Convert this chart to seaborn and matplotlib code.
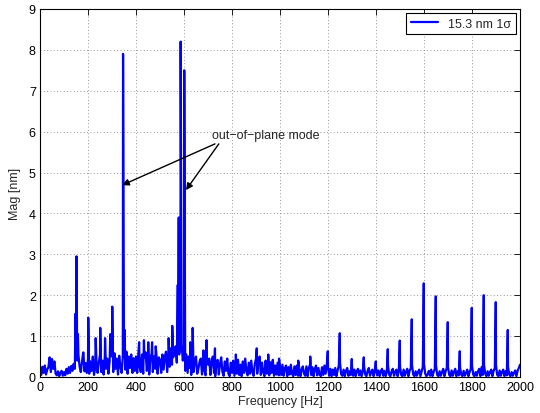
import numpy as np
import pandas as pd
import matplotlib
matplotlib.use("Agg")
import matplotlib.pyplot as plt
import seaborn as sns

# Broadband floor of the magnitude spectrum, one value every 5 Hz (0..2000 Hz)
floor_freq = list(range(0, 2001, 5))
floor_mag = [
    0.20, 0.05, 0.25, 0.10, 0.28, 0.06, 0.18, 0.24, 0.48, 0.12, 0.44, 0.20, 0.38, 0.08, 0.04, 0.14, 0.02, 0.10, 0.15, 0.03,
    0.12, 0.04, 0.20, 0.08, 0.24, 0.10, 0.27, 0.15, 0.32, 0.20, 0.50, 0.40, 0.55, 0.25, 0.12, 0.38, 0.60, 0.14, 0.34, 0.10,
    0.45, 0.08, 0.38, 0.15, 0.50, 0.05, 0.22, 0.42, 0.10, 0.35, 0.55, 0.12, 0.40, 0.06, 0.52, 0.20, 0.45, 0.08, 0.38, 0.60,
    0.50, 0.12, 0.58, 0.20, 0.45, 0.06, 0.52, 0.25, 0.10, 0.48, 0.55, 0.18, 0.62, 0.08, 0.50, 0.22, 0.55, 0.10, 0.46, 0.15,
    0.50, 0.10, 0.60, 0.25, 0.12, 0.55, 0.08, 0.48, 0.60, 0.15, 0.52, 0.06, 0.45, 0.58, 0.12, 0.50, 0.20, 0.55, 0.08, 0.48,
    0.42, 0.10, 0.55, 0.18, 0.50, 0.62, 0.12, 0.58, 0.25, 0.70, 0.30, 0.48, 0.65, 0.75, 0.35, 0.90, 0.55, 0.85, 0.80, 0.40,
    0.65, 0.15, 0.55, 0.10, 0.50, 0.22, 0.05, 0.45, 0.12, 0.40, 0.50, 0.08, 0.20, 0.38, 0.45, 0.06, 0.52, 0.15, 0.04, 0.40,
    0.30, 0.45, 0.05, 0.38, 0.50, 0.10, 0.02, 0.35, 0.42, 0.06, 0.32, 0.48, 0.12, 0.03, 0.38, 0.15, 0.45, 0.08, 0.02, 0.35,
    0.10, 0.40, 0.03, 0.35, 0.08, 0.42, 0.05, 0.30, 0.02, 0.38, 0.10, 0.45, 0.15, 0.04, 0.35, 0.08, 0.40, 0.12, 0.03, 0.32,
    0.45, 0.08, 0.38, 0.50, 0.05, 0.35, 0.12, 0.02, 0.40, 0.08, 0.32, 0.04, 0.36, 0.10, 0.42, 0.03, 0.28, 0.06, 0.35, 0.04,
    0.25, 0.05, 0.30, 0.03, 0.22, 0.28, 0.02, 0.24, 0.06, 0.30, 0.08, 0.02, 0.26, 0.05, 0.28, 0.03, 0.22, 0.02, 0.18, 0.26,
    0.08, 0.03, 0.26, 0.02, 0.22, 0.30, 0.05, 0.24, 0.02, 0.20, 0.28, 0.04, 0.22, 0.06, 0.02, 0.24, 0.05, 0.28, 0.08, 0.30,
    0.25, 0.03, 0.20, 0.02, 0.18, 0.05, 0.22, 0.02, 0.16, 0.28, 0.35, 0.06, 0.03, 0.18, 0.02, 0.15, 0.22, 0.03, 0.14, 0.05,
    0.25, 0.03, 0.18, 0.02, 0.15, 0.20, 0.04, 0.16, 0.02, 0.14, 0.28, 0.06, 0.02, 0.15, 0.22, 0.03, 0.12, 0.18, 0.02, 0.14,
    0.22, 0.04, 0.16, 0.02, 0.14, 0.20, 0.03, 0.15, 0.02, 0.12, 0.28, 0.05, 0.02, 0.14, 0.20, 0.03, 0.12, 0.18, 0.02, 0.15,
    0.26, 0.05, 0.02, 0.18, 0.03, 0.12, 0.20, 0.02, 0.15, 0.22, 0.30, 0.06, 0.02, 0.14, 0.03, 0.12, 0.18, 0.02, 0.14, 0.25,
    0.32, 0.08, 0.02, 0.06, 0.15, 0.03, 0.18, 0.02, 0.12, 0.20, 0.28, 0.05, 0.02, 0.14, 0.03, 0.12, 0.20, 0.02, 0.14, 0.22,
    0.25, 0.05, 0.02, 0.16, 0.03, 0.12, 0.20, 0.02, 0.14, 0.04, 0.24, 0.06, 0.02, 0.15, 0.03, 0.10, 0.18, 0.02, 0.12, 0.20,
    0.28, 0.06, 0.02, 0.12, 0.03, 0.14, 0.20, 0.02, 0.24, 0.05, 0.30, 0.08, 0.02, 0.14, 0.03, 0.12, 0.18, 0.02, 0.15, 0.22,
    0.28, 0.05, 0.02, 0.16, 0.03, 0.12, 0.18, 0.02, 0.14, 0.04, 0.25, 0.06, 0.02, 0.12, 0.03, 0.10, 0.16, 0.02, 0.15, 0.22,
    0.30,
]

# Narrow spectral lines (Hz, nm)
line_freq = [148, 152, 158, 181, 201, 232, 251, 271, 293, 301, 346, 353,
             413, 433, 451, 467, 482, 536, 551, 574, 578, 586, 601, 626,
             636, 681, 694, 729, 816, 903, 951, 996, 1076, 1126,
             1199, 1249, 1299, 1349, 1399, 1449, 1499, 1549, 1599, 1649,
             1699, 1749, 1799, 1849, 1899, 1949]
line_mag = [1.55, 2.95, 1.05, 0.60, 1.45, 0.95, 1.20, 0.95, 1.05, 1.72, 7.90, 1.15,
            0.85, 0.90, 0.85, 0.85, 0.75, 0.95, 1.25, 2.25, 3.90, 8.20, 7.50, 0.85,
            1.20, 0.65, 0.90, 0.70, 0.55, 0.70, 0.55, 0.45, 0.40, 0.50,
            0.63, 1.07, 0.44, 0.48, 0.38, 0.68, 0.89, 1.41, 2.29, 1.97,
            1.34, 0.63, 1.69, 2.00, 1.83, 1.15]

x_ticks = list(range(0, 2001, 200))
y_ticks = list(range(0, 10))

spectrum = pd.concat([
    pd.DataFrame({"freq": line_freq, "mag": line_mag}),
    pd.DataFrame({"freq": floor_freq, "mag": floor_mag}),
]).drop_duplicates("freq", keep="first").sort_values("freq").reset_index(drop=True)

sns.set_theme(style="white")
plt.rcParams["font.family"] = ["Liberation Sans", "DejaVu Sans"]
plt.rcParams["axes.linewidth"] = 0.8

fig, ax = plt.subplots(figsize=(5.4, 4.14), dpi=100)
fig.subplots_adjust(left=0.0741, right=0.963, bottom=0.087, top=0.976)

sns.lineplot(data=spectrum, x="freq", y="mag", ax=ax, color="#0000ff",
             linewidth=1.6, estimator=None, sort=True, label="15.3 nm 1σ")

ax.set_xlim(0, 2000)
ax.set_ylim(0, 9)
ax.set_xticks(x_ticks)
ax.set_yticks(y_ticks)
ax.tick_params(axis="both", which="both", direction="in", length=4, width=0.6,
               top=True, right=True, labelsize=9, colors="black", pad=3)
for s in ax.spines.values():
    s.set_color("black")
    s.set_linewidth(0.8)
ax.grid(True, linestyle=(0, (1, 3)), color="#777777", linewidth=0.6)

ax.set_xlabel("Frequency [Hz]", fontsize=9, labelpad=1)
ax.set_ylabel("Mag [nm]", fontsize=9, labelpad=6)

leg = ax.legend(loc="upper right", fontsize=9, frameon=True, fancybox=False,
                framealpha=1, edgecolor="black", handlelength=2.2,
                borderaxespad=0.35, borderpad=0.35)
leg.get_frame().set_linewidth(0.8)

ax.text(717, 5.92, "out\u2212of\u2212plane mode", fontsize=9, ha="left", va="center")
arrow = dict(arrowstyle="-|>", color="black", lw=1.0, mutation_scale=10,
             shrinkA=0, shrinkB=0)
ax.annotate("", xy=(342, 4.69), xytext=(729, 5.70), arrowprops=arrow)
ax.annotate("", xy=(608, 4.57), xytext=(745, 5.70), arrowprops=arrow)

fig.savefig("out.png", dpi=100)
